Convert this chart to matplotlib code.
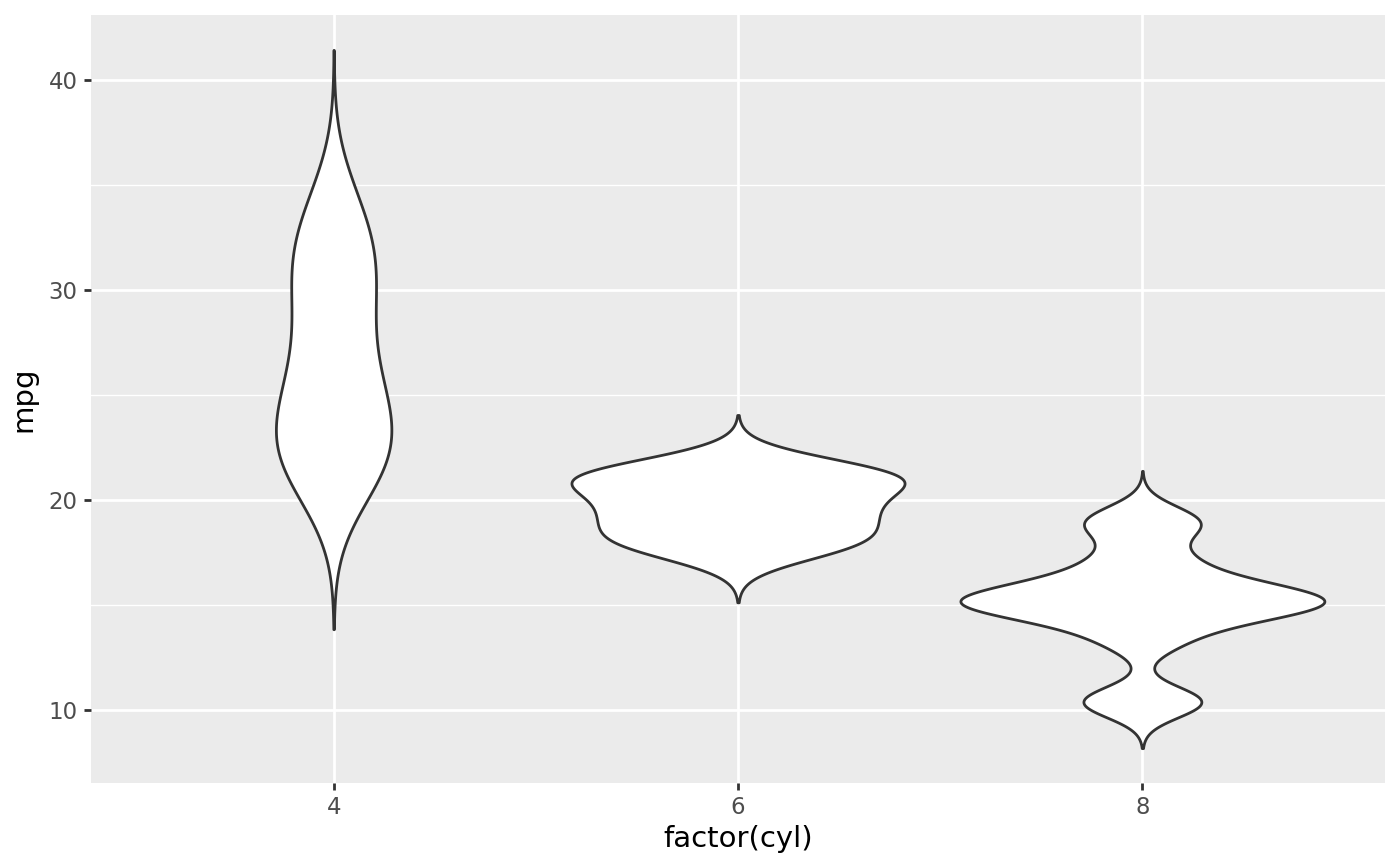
import numpy as np
import matplotlib
matplotlib.use("Agg")
import matplotlib.pyplot as plt

# mtcars mpg, grouped by number of cylinders
cyl_labels = ["4", "6", "8"]
mpg_4 = [22.8, 24.4, 22.8, 32.4, 30.4, 33.9, 21.5, 27.3, 26.0, 30.4, 21.4]
mpg_6 = [21.0, 21.0, 21.4, 18.1, 19.2, 17.8, 19.7]
mpg_8 = [18.7, 14.3, 16.4, 17.3, 15.2, 10.4, 10.4, 14.7, 15.5, 15.2,
         13.3, 19.2, 15.8, 15.0]
groups = [mpg_4, mpg_6, mpg_8]


def bw_nrd0(x):
    # same rule of thumb as R's bw.nrd0
    x = np.asarray(x)
    hi = np.std(x, ddof=1)
    q1, q3 = np.percentile(x, [25, 75])
    lo = min(hi, (q3 - q1) / 1.34)
    return 0.9 * lo * len(x) ** -0.2


def density_stats(x, n=512, cut=3):
    # gaussian kde, not trimmed (goes 3 bandwidths past the data)
    x = np.asarray(x)
    bw = bw_nrd0(x)
    coords = np.linspace(x.min() - cut * bw, x.max() + cut * bw, n)
    z = (coords[:, None] - x[None, :]) / bw
    vals = np.exp(-0.5 * z ** 2).sum(axis=1) / (len(x) * bw * np.sqrt(2 * np.pi))
    return {"coords": coords, "vals": vals, "mean": x.mean(),
            "median": np.median(x), "min": x.min(), "max": x.max()}


stats = [density_stats(g) for g in groups]
top = max(s["vals"].max() for s in stats)
# scale = "area": every violin shares one density scale
widths = [0.9 * s["vals"].max() / top for s in stats]
positions = np.arange(1, len(groups) + 1)

fig = plt.figure(figsize=(14, 8.66), dpi=100)
ax = fig.add_axes([0.065, 0.0958, 0.9243, 0.8869])
ax.set_facecolor("#EBEBEB")
for s in ax.spines.values():
    s.set_visible(False)

# grid
ax.set_yticks([10, 20, 30, 40])
ax.set_yticks([15, 25, 35], minor=True)
ax.set_xticks(positions)
ax.set_xticklabels(cyl_labels)
ax.grid(True, which="major", color="white", linewidth=2.0)
ax.grid(True, which="minor", axis="y", color="white", linewidth=1.0)
ax.set_axisbelow(True)

parts = ax.violin(stats, positions=positions, widths=widths, showextrema=False)
for b in parts["bodies"]:
    b.set_facecolor("white")
    b.set_edgecolor("#333333")
    b.set_linewidth(2.0)
    b.set_alpha(1)
    b.set_zorder(3)

lo_all = min(s["coords"][0] for s in stats)
hi_all = max(s["coords"][-1] for s in stats)
pad = 0.05 * (hi_all - lo_all)
ax.set_ylim(lo_all - pad, hi_all + pad)
ax.set_xlim(0.4, 3.6)

ax.tick_params(axis="both", which="major", length=5, width=2.0, color="#333333",
               labelsize=16.5, labelcolor="#4D4D4D", pad=4.5)
ax.tick_params(axis="y", which="minor", length=0)

ax.set_xlabel("factor(cyl)", fontsize=21, color="black", labelpad=4)
ax.set_ylabel("mpg", fontsize=21, color="black", labelpad=8)

fig.savefig("out.png", dpi=100)
